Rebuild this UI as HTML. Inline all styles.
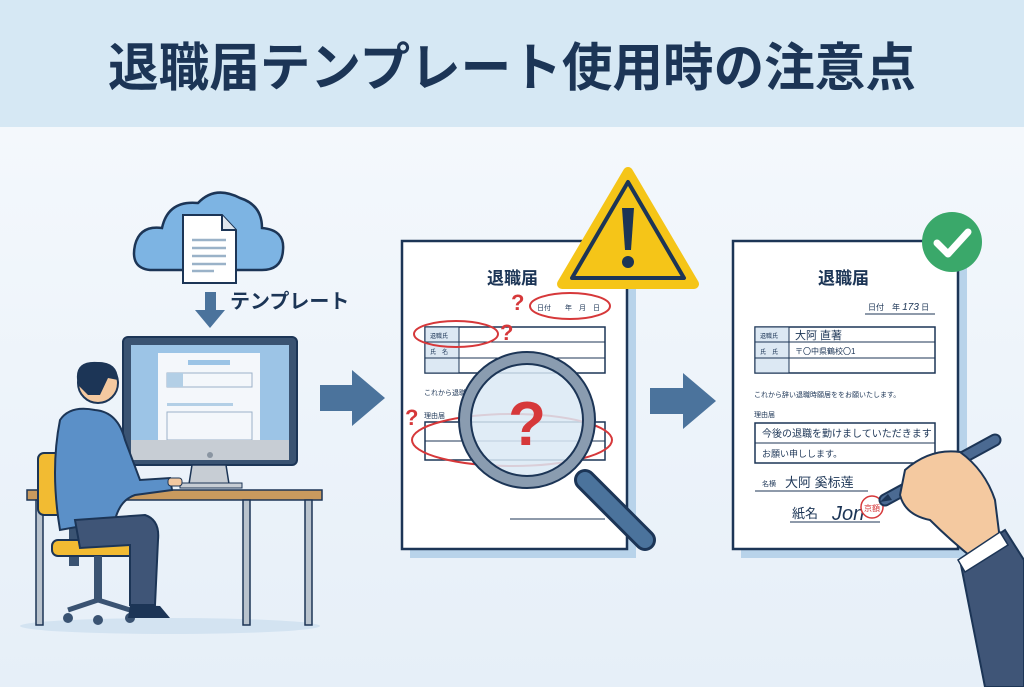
<!DOCTYPE html>
<html><head><meta charset="utf-8"><style>
html,body{margin:0;padding:0;width:1024px;height:687px;overflow:hidden;background:#eef4fa}
svg{display:block}
text{font-family:"Liberation Sans","Noto Sans CJK JP",sans-serif}
</style></head><body>
<svg width="1024" height="687" viewBox="0 0 1024 687" xmlns="http://www.w3.org/2000/svg">
<defs>
<linearGradient id="bg" x1="0" y1="0" x2="0" y2="1"><stop offset="0" stop-color="#f7fafd"/><stop offset="1" stop-color="#e6eff8"/></linearGradient>
</defs>
<rect width="1024" height="687" fill="url(#bg)"/>
<rect width="1024" height="127" fill="#d6e8f4"/>
<text x="108" y="86" font-size="52" font-weight="bold" fill="#1c3556" textLength="808" lengthAdjust="spacingAndGlyphs">退職届テンプレート使用時の注意点</text>

<!-- floor shadow -->
<ellipse cx="170" cy="626" rx="150" ry="8" fill="#d3e3f1"/>

<!-- cloud -->
<path d="M150 270 Q130 268 135 245 Q140 225 162 228 Q168 200 198 203 Q215 185 240 198 Q262 205 262 228 Q285 230 283 250 Q282 270 262 270 Z" fill="#7db4e3" stroke="#1c3556" stroke-width="2.5"/>
<path d="M183 215 H222 L236 230 V283 H183 Z" fill="#fff" stroke="#1c3556" stroke-width="2"/>
<path d="M222 215 V230 H236" fill="#dfe6ee" stroke="#1c3556" stroke-width="2"/>
<g stroke="#9ab2c8" stroke-width="2.5"><line x1="192" y1="240" x2="226" y2="240"/><line x1="192" y1="248" x2="226" y2="248"/><line x1="192" y1="256" x2="226" y2="256"/><line x1="192" y1="264" x2="226" y2="264"/><line x1="192" y1="271" x2="214" y2="271"/></g>
<path d="M205 292 H216 V310 H225 L210 328 L195 310 H205 Z" fill="#4b739c"/>
<text x="230" y="308" font-size="20" font-weight="bold" fill="#1c3556">テンプレート</text>

<!-- monitor -->
<rect x="123" y="337" width="174" height="128" rx="5" fill="#3a5372" stroke="#1c3556" stroke-width="2"/>
<rect x="131" y="345" width="158" height="95" fill="#9cc4e6"/>
<rect x="158" y="353" width="102" height="87" fill="#f4f7fb"/>
<rect x="188" y="360" width="42" height="5" fill="#9cc4e6"/>
<rect x="167" y="373" width="85" height="14" fill="none" stroke="#9cb2c8"/>
<rect x="167" y="373" width="16" height="14" fill="#b3cfe6"/>
<rect x="167" y="403" width="66" height="3" fill="#b3cfe6"/>
<rect x="167" y="412" width="85" height="28" fill="none" stroke="#9cb2c8"/>
<rect x="131" y="440" width="158" height="20" fill="#c7cdd4"/>
<circle cx="210" cy="455" r="3" fill="#8a95a2"/>
<path d="M192 465 H226 L229 484 H189 Z" fill="#c7cdd4" stroke="#1c3556" stroke-width="1.5"/>
<rect x="180" y="483" width="62" height="5" fill="#c7cdd4" stroke="#1c3556" stroke-width="1"/>

<!-- desk -->
<rect x="27" y="490" width="295" height="10" fill="#c99a5e" stroke="#1c3556" stroke-width="1.5"/>
<g fill="#b9c3cd" stroke="#1c3556" stroke-width="1.5">
<rect x="36" y="500" width="7" height="125"/><rect x="243" y="500" width="7" height="125"/><rect x="305" y="500" width="7" height="125"/></g>

<!-- chair -->
<rect x="38" y="453" width="70" height="62" rx="6" fill="#f2bb32" stroke="#1c3556" stroke-width="2"/>
<rect x="69" y="486" width="10" height="80" fill="#3a5372"/>
<rect x="52" y="540" width="96" height="16" rx="6" fill="#f2bb32" stroke="#1c3556" stroke-width="2"/>
<rect x="94" y="556" width="8" height="45" fill="#3a5372"/>
<path d="M68 610 L98 600 L130 610" stroke="#3a5372" stroke-width="5" fill="none"/>
<circle cx="68" cy="618" r="5" fill="#3a5372"/><circle cx="98" cy="620" r="5" fill="#3a5372"/><circle cx="130" cy="618" r="5" fill="#3a5372"/>

<!-- person -->
<path d="M60 420 Q70 405 95 410 Q118 412 125 440 L140 480 L170 478 L172 490 L135 495 Q120 500 115 520 L60 530 Q50 470 60 420 Z" fill="#5b90c8" stroke="#1c3556" stroke-width="2"/>
<path d="M75 520 L145 515 Q160 520 158 540 L155 605 L130 605 L130 545 L80 548 Z" fill="#3f5577" stroke="#1c3556" stroke-width="2"/>
<path d="M130 605 L160 606 L170 618 L128 618 Z" fill="#1c3556"/>
<circle cx="98" cy="383" r="20" fill="#f4c9a0" stroke="#1c3556" stroke-width="2"/>
<path d="M78 385 Q72 360 98 362 Q118 362 118 380 L108 378 L100 395 L88 395 Z" fill="#1c3556"/>
<rect x="168" y="478" width="14" height="8" rx="3" fill="#f4c9a0" stroke="#1c3556" stroke-width="1"/>

<!-- arrows -->
<path d="M320 385 H352 V370 L385 398 L352 426 V411 H320 Z" fill="#4b739c"/>
<path d="M650 388 H683 V373 L716 401 L683 429 V414 H650 Z" fill="#4b739c"/>

<!-- doc 1 -->
<rect x="410" y="250" width="226" height="308" fill="#b8d3ea"/>
<rect x="402" y="241" width="225" height="308" fill="#fff" stroke="#1c3556" stroke-width="2.5"/>
<text x="487" y="284" font-size="17" font-weight="bold" fill="#1c3556">退職届</text>
<text x="537" y="310" font-size="7" fill="#1c3556">日付　　年　月　日</text>
<ellipse cx="570" cy="306" rx="40" ry="13" fill="none" stroke="#d6383a" stroke-width="2"/>
<rect x="425" y="327" width="180" height="46" fill="#fff" stroke="#1c3556" stroke-width="1.5"/>
<rect x="425" y="327" width="34" height="46" fill="#dce8f3" stroke="#1c3556" stroke-width="1"/>
<line x1="425" y1="342" x2="605" y2="342" stroke="#1c3556"/><line x1="425" y1="358" x2="605" y2="358" stroke="#1c3556"/>
<text x="430" y="338" font-size="6" fill="#1c3556">退職氏</text><text x="430" y="354" font-size="6" fill="#1c3556">氏　名</text>
<ellipse cx="456" cy="334" rx="42" ry="13" fill="none" stroke="#d6383a" stroke-width="2"/>
<text x="424" y="395" font-size="7" fill="#1c3556">これから退職</text>
<text x="424" y="418" font-size="7" fill="#1c3556">理由届</text>
<rect x="425" y="422" width="180" height="38" fill="#fff" stroke="#1c3556" stroke-width="1.5"/>
<line x1="425" y1="441" x2="605" y2="441" stroke="#1c3556"/>
<ellipse cx="512" cy="440" rx="100" ry="26" fill="none" stroke="#d6383a" stroke-width="2"/>
<line x1="510" y1="519" x2="605" y2="519" stroke="#1c3556"/>
<g font-size="22" font-weight="bold" fill="#d6383a"><text x="511" y="310">?</text><text x="500" y="340">?</text><text x="405" y="425">?</text></g>

<!-- magnifier -->
<line x1="585" y1="480" x2="645" y2="540" stroke="#1c3556" stroke-width="22" stroke-linecap="round"/>
<line x1="585" y1="480" x2="645" y2="540" stroke="#4b739c" stroke-width="16" stroke-linecap="round"/>
<circle cx="527" cy="420" r="62" fill="#dbe9f5" fill-opacity="0.85" stroke="#8a9cb0" stroke-width="12"/>
<circle cx="527" cy="420" r="68" fill="none" stroke="#1c3556" stroke-width="2"/>
<circle cx="527" cy="420" r="56" fill="none" stroke="#1c3556" stroke-width="2"/>
<text x="527" y="445" font-size="62" font-weight="bold" fill="#d6383a" text-anchor="middle">?</text>

<!-- warning -->
<path d="M628 172 L694 284 L562 284 Z" fill="#f5c518" stroke="#f5c518" stroke-width="10" stroke-linejoin="round"/>
<path d="M628 182 L684 278 L572 278 Z" fill="#f5c518" stroke="#1c3556" stroke-width="4" stroke-linejoin="round"/>
<path d="M622 208 H634 L631 250 H625 Z" fill="#1c3556"/>
<circle cx="628" cy="262" r="6" fill="#1c3556"/>

<!-- doc 2 -->
<rect x="741" y="250" width="226" height="308" fill="#b8d3ea"/>
<rect x="733" y="241" width="225" height="308" fill="#fff" stroke="#1c3556" stroke-width="2.5"/>
<text x="818" y="284" font-size="17" font-weight="bold" fill="#1c3556">退職届</text>
<text x="868" y="310" font-size="8" fill="#1c3556">日付　年 <tspan font-style="italic" font-size="10">173</tspan> 日</text>
<line x1="865" y1="314" x2="935" y2="314" stroke="#1c3556"/>
<rect x="755" y="327" width="180" height="46" fill="#fff" stroke="#1c3556" stroke-width="1.5"/>
<rect x="755" y="327" width="34" height="46" fill="#dce8f3" stroke="#1c3556" stroke-width="1"/>
<line x1="755" y1="342" x2="935" y2="342" stroke="#1c3556"/><line x1="755" y1="358" x2="935" y2="358" stroke="#1c3556"/>
<text x="760" y="338" font-size="6" fill="#1c3556">退職氏</text><text x="760" y="354" font-size="6" fill="#1c3556">氏　氏</text>
<text x="795" y="339" font-size="11" fill="#1c3556">大阿 直著</text>
<text x="795" y="354" font-size="8" fill="#1c3556">〒〇中県鶴校〇1</text>
<text x="754" y="397" font-size="7" fill="#1c3556">これから辞い退職時願居ををお願いたします。</text>
<text x="754" y="417" font-size="7" fill="#1c3556">理由届</text>
<rect x="755" y="423" width="180" height="40" fill="#fff" stroke="#1c3556" stroke-width="1.5"/>
<line x1="755" y1="443" x2="935" y2="443" stroke="#1c3556"/>
<text x="762" y="437" font-size="10" fill="#1c3556">今後の退職を勤けましていただきます</text>
<text x="762" y="457" font-size="9" fill="#1c3556">お願い申しします。</text>
<text x="762" y="486" font-size="7" fill="#1c3556">名横</text>
<text x="785" y="487" font-size="13" fill="#1c3556">大阿 奚标莲</text>
<line x1="755" y1="491" x2="868" y2="491" stroke="#1c3556"/>
<text x="792" y="518" font-size="13" fill="#1c3556">紙名</text>
<text x="832" y="520" font-size="20" font-style="italic" fill="#1c3556" font-family="Liberation Serif">Jon</text>
<line x1="790" y1="522" x2="880" y2="522" stroke="#1c3556"/>
<circle cx="872" cy="507" r="11" fill="#fff" stroke="#d6383a" stroke-width="1.5"/>
<text x="872" y="511" font-size="8" fill="#d6383a" text-anchor="middle">京額</text>

<!-- check -->
<circle cx="952" cy="242" r="30" fill="#3aa86a"/>
<path d="M937 243 L948 254 L968 232" stroke="#fff" stroke-width="7" fill="none" stroke-linecap="round" stroke-linejoin="round"/>

<!-- hand & pen -->
<line x1="885" y1="500" x2="995" y2="440" stroke="#1c3556" stroke-width="13" stroke-linecap="round"/>
<line x1="885" y1="500" x2="995" y2="440" stroke="#4b6a92" stroke-width="9" stroke-linecap="round"/>
<path d="M880 502 L888 494 L892 500 Z" fill="#1c3556"/>
<path d="M905 470 Q930 448 960 452 Q985 470 995 500 L1000 540 L975 560 Q950 540 930 520 Q905 515 900 495 Z" fill="#f4c9a0" stroke="#1c3556" stroke-width="2"/>
<path d="M960 560 L1005 530 L1024 560 V687 H985 Z" fill="#3f5577" stroke="#1c3556" stroke-width="2"/>
<path d="M958 560 L1000 532 L1008 545 L965 572 Z" fill="#fff" stroke="#1c3556" stroke-width="1.5"/>
</svg>
</body></html>
